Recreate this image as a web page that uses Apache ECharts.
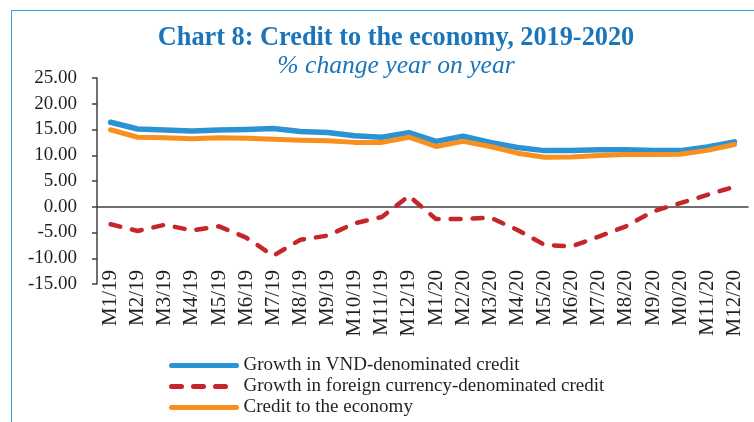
<!DOCTYPE html>
<html>
<head>
<meta charset="utf-8">
<script src="https://cdn.jsdelivr.net/npm/echarts@6/dist/echarts.min.js"></script>
<style>
  html, body { margin: 0; padding: 0; background: #fff; }
  #wrap { position: relative; width: 754px; height: 422px; }
  #chart { width: 754px; height: 422px; }
  #frame { position: absolute; left: 11px; top: 10px; right: 0; bottom: 0;
           border-left: 1.5px solid #29abe2; border-top: 1.5px solid #29abe2; pointer-events: none; }
</style>
</head>
<body>
<div id="wrap">
  <div id="chart"></div>
  <div id="frame"></div>
</div>
<script>
// months (the source labels M10/20 as "M0/20")
var months = ['M1/19','M2/19','M3/19','M4/19','M5/19','M6/19','M7/19','M8/19','M9/19','M10/19','M11/19','M12/19',
              'M1/20','M2/20','M3/20','M4/20','M5/20','M6/20','M7/20','M8/20','M9/20','M0/20','M11/20','M12/20'];
var vndCredit = [16.4, 15.1, 14.9, 14.7, 14.9, 15.0, 15.2, 14.6, 14.4, 13.8, 13.5, 14.4,
                 12.7, 13.7, 12.5, 11.5, 10.9, 10.9, 11.05, 11.05, 10.9, 10.9, 11.6, 12.6];
var fxCredit = [-3.4, -4.7, -3.5, -4.6, -3.8, -6.0, -9.5, -6.4, -5.6, -3.2, -2.0, 2.1,
                -2.4, -2.4, -2.1, -4.5, -7.4, -7.7, -5.8, -3.8, -0.9, 0.7, 2.3, 3.9];
var totalCredit = [14.95, 13.5, 13.4, 13.2, 13.4, 13.3, 13.1, 12.9, 12.8, 12.5, 12.5, 13.5,
                   11.7, 12.7, 11.7, 10.4, 9.6, 9.65, 9.95, 10.15, 10.15, 10.2, 10.95, 12.1];
var seriesNames = ['Growth in VND-denominated credit',
                   'Growth in foreign currency-denominated credit',
                   'Credit to the economy'];

var font = '"Liberation Serif", "Times New Roman", serif';
var axisColor = '#404040';
var textColor = '#231f20';

var myChart = echarts.init(document.getElementById('chart'));
var option = {
    animation: false,
    title: {
        text: 'Chart 8: Credit to the economy, 2019-2020',
        subtext: '% change year on year',
        left: 391,
        textAlign: 'center',
        top: 20,
        itemGap: 2,
        textStyle: { fontFamily: font, fontSize: 26.3, fontWeight: 'bold', color: '#1a75bb' },
        subtextStyle: { fontFamily: font, fontSize: 25.6, fontStyle: 'italic', color: '#1a75bb' }
    },
    legend: {
        orient: 'vertical',
        left: 169,
        top: 355,
        padding: 0,
        height: 80,
        itemWidth: 65,
        itemHeight: 21,
        itemGap: 0,
        data: seriesNames,
        itemStyle: { opacity: 0 },
        lineStyle: { width: 5 },
        textStyle: { fontFamily: font, fontSize: 19, lineHeight: 21, color: textColor, padding: [0, 0, 0, 2] }
    },
    grid: { left: 97, right: 6, top: 78, bottom: 138, containLabel: false },
    xAxis: [
        {
            type: 'category',
            data: months,
            axisLine: { onZero: true, lineStyle: { color: axisColor, width: 1.5 } },
            axisTick: { length: 7, lineStyle: { color: axisColor, width: 1.5 } },
            axisLabel: { show: false }
        },
        {
            type: 'category',
            data: months,
            position: 'bottom',
            axisLine: { show: false, onZero: false },
            axisTick: { show: false },
            axisLabel: {
                rotate: 90,
                margin: -14,
                interval: 0,
                fontFamily: font,
                fontSize: 21,
                color: textColor
            }
        }
    ],
    yAxis: {
        type: 'value',
        min: -15,
        max: 25,
        interval: 5,
        splitLine: { show: false },
        axisLine: { show: true, lineStyle: { color: axisColor, width: 1.5 } },
        axisTick: { show: true, length: 5, lineStyle: { color: axisColor, width: 1.5 } },
        axisLabel: {
            margin: 20,
            fontFamily: font,
            fontSize: 19,
            color: textColor,
            formatter: function (v) { return v.toFixed(2); }
        }
    },
    series: [
        {
            name: seriesNames[0],
            type: 'line',
            data: vndCredit,
            symbol: 'none',
            color: '#2a93d5',
            lineStyle: { width: 5.5, color: '#2a93d5', cap: 'round', join: 'round' }
        },
        {
            name: seriesNames[1],
            type: 'line',
            data: fxCredit,
            symbol: 'none',
            color: '#c5262c',
            lineStyle: { width: 4.5, color: '#c5262c', type: [10, 12], cap: 'round', join: 'round' }
        },
        {
            name: seriesNames[2],
            type: 'line',
            data: totalCredit,
            symbol: 'none',
            color: '#f7901e',
            lineStyle: { width: 5, color: '#f7901e', cap: 'round', join: 'round' }
        }
    ]
};
myChart.setOption(option);
</script>
</body>
</html>
